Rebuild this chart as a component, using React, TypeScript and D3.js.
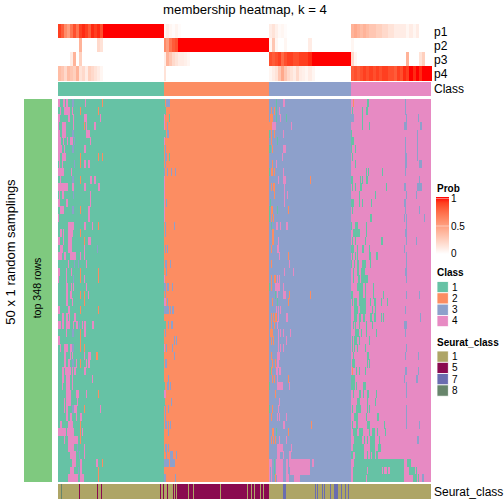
import React from "react";
import * as d3 from "d3";

const title = "membership heatmap, k = 4";
const trackNames = ["p1", "p2", "p3", "p4"];
const classColors = ["#66C2A5", "#FC8D62", "#8DA0CB", "#E78AC3"];
const classLabels = ["1", "2", "3", "4"];
const seuratLabels = ["1", "5", "7", "8"];
const seuratColors = ["#AEA566", "#8A0A50", "#6A6DB0", "#67856B"];
const probTicks = [1, 0.5, 0];

// column slots (one unit = one column slot across the heatmap body)
const columnSlots = 373;
const classBreaks = [0, 105.5, 211, 293, 373];
const rowCount = 50;

const zeros = (n: number) => new Array(n).fill(0);
const ones = (n: number) => new Array(n).fill(1);

const p1Values = [
  [.9,.8,.6,.5,.7,.85,.7,.9,.95,.9,.8,.95,.9,.95,.85,...ones(20)],
  [.05,.1,.05,.02,.06,.02,...zeros(30)],
  [.1,.15,.08,.03,.05,.02,...zeros(21)],
  [.4,.45,.4,.35,.4,.35,.3,.3,.25,.25,.2,.2,.15,.15,.1,.1,.1,.1,.05,.1,.05,.1,0,0,0,0],
];
const p2Values = [
  [0,0,0,0,0,0,0,.4,0,0,0,0,0,.2,.15,...zeros(20)],
  [.6,.5,.7,.8,.85,...ones(31)],
  [.05,.3,.05,0,0,.05,0,0,0,0,0,0,0,.1,...zeros(13)],
  [.05,...zeros(25)],
];
const p3Values = [
  [0,0,0,0,.1,.4,0,.25,0,...zeros(26)],
  [.1,.4,.3,.2,.15,.1,.1,.08,.05,...zeros(27)],
  [.85,.8,.85,.9,.75,.85,.9,.9,.85,.85,.9,.9,.9,.95,...ones(13)],
  [.2,.05,...zeros(16),.4,0,0,0,.15,.25,0,0],
];
const p4Values = [
  [.35,.3,.2,.35,.3,.25,.4,.15,.2,.1,.25,.2,.15,.1,.05,...zeros(20)],
  [.15,...zeros(35)],
  [.05,.1,.15,.3,.45,.3,.2,.15,.1,.2,.1,.08,.05,.1,.05,...zeros(12)],
  [.8,.85,.8,.85,.9,.85,.9,.85,.9,.85,.9,.9,.85,.85,.8,.9,.85,.95,.9,1,.95,1,.95,1,1,1],
];

const seurat5 = [[21,22],[39,40],[43,44],[102,103],[105,106],[109,110],[115,116],[117,118],[119,130],[131,135],[136,162],[163,189],[190,193],[194,196],[197,202],[203,205],[206,211]];
const seurat7 = [[225,228],[257,258],[259,260],[264,265],[266,267],[272,273],[276,280],[283,284],[287,288],[290,291]];
const seurat8 = [[3,4]];

const group1Rows = [
"0-1.5p 4.5-6.5p 8-9.5p 13.5-15.5b 27p 43.5o","1.5-2.5p 5.5-11.5p 13.5p 21.5o 39.5o","0-1.5p 10-12p 14.5-16p 26-29p 41.5p","0-1p 4-8p 14.5p 25.5o 27.5-29p 36-38p","0-1.5p 4-8p 13.5-16b 28-31.5p",
"0-3p 4.5-6p 8.5-10p 12-15p 15.5b 31.5-33p","0-4p 5.5-6.5p 13.5-15.5b 26-27.5p","0-2p 4-7.5p 21.5o 39.5o 43.5o","0.5-2p 3.5-4.5p 15.5b 21.5o 26-27.5p 30-31.5p","0-6p 12.5-14p",
"1.5-3p 13.5-15.5b 21.5o 32-33.5p 36-37.5p","0-5.5p 6-9.5p 14-16p 25.5-27.5p 40-41.5p","0.5-2p 3.5-6p 14.5-16b 31.5p","0-1.5p 8-10p 31.5p","2-6p 13.5-15.5b 21.5o 29.5-31.5p",
"0-1p 29.5-31.5p","10-15.5p 25.5-27.5p 33.5p 39.5o","2-3.5p 4.5-6p 10-14.5p 21.5o","0-1.5p 4.5-6p 10-13.5p 25.5o 29.5-32.5p","2-4.5p 10-14p 26p 38.5b",
"0-3.5p 6-8p 11.5-17.5p 21.5-23p 25.5p","10-11p 15.5b 19.5b 28p","0-1.5p 8p 12.5-14p 21.5o 39.5o","0p 8p 14.5b 25.5p 21.5o 39.5o","8-9.5p 12.5-14p 15p 28-29p",
"8-9.5p 12-13.5p 21.5o 25.5o 29.5p","8-9.5p 13.5p 25.5o","0-1.5p 10-11.5p 21.5o 39.5o","4-5.5p 8-9.5p 10.5p 16-17.5p","0-3p 4-5.5p 8-12p 14.5-16p 18-19.5p 20.5b 23.5p 26-27.5p 33.5-36p",
"8p 13.5-15.5b 21.5o 26-27.5p","0-1.5p 21.5o","1.5p 5.5-10p 11.5-13.5p 14-16b 21.5o 25.5o","6-8p 12p 13.5-15p 26p 30-32.5p 38-39.5o","6-8p 10-12p 13.5-15.5b 17.5p 21.5o 27.5p 30-31.5p",
"4-5.5p 6.5-12.5p 14p 16-18p 26-27.5p","4-5.5p 8-12p 13.5-15p 33.5p","4p 8-11.5p 13.5-15p","8-12.5p 17.5-20.5p 27.5p 39.5o","5.5p 8-12.5p 19p",
"5.5p 8-10p 13.5-16b 16-18.5p 25.5o 42p","8-9.5p 11.5-13.5p 18p 21.5-23.5p","2-3.5p 10-14.5p 21.5o","0-1.5p 2-7.5p 8.5-15.5p 21.5o 23.5p","5.5p 9.5-19.5p 21.5o",
"9.5-16p 18.5b 26p","11.5-17.5p 20.5b 26p","14-17.5p 21.5-24p 38-40p 43.5o","12-16p 19.5b 22-24p 39.5o","9.5-19.5p 22-25.5p 39.5o",
];
const group2Rows = [
"106-107g 108-111.5b","106-107.5g","105.5p 111g","105.5p 109b","106-107.5g 109-111b",
"105.5p","107b","107-109b 111g","107b","106b 109b 113b 117b",
"105.5p","105.5p","105.5p","105.5p 107.5-109b","105.5p",
"105.5p","107b 116-117b","107b","","107b 109b",
"","107-109b 112-113b","108-109b","105.5p","106-107.5b 109-111b 114-115b",
"105.5-106p 107b","105.5-107.5p 109b","105.5-106p 106-111b 112-113b 114-115.5b","","106-107.5g 110-111b 113-115b",
"107b","116-117b 118-119b","105.5p 108-109b 114-115b","116-117b","107-109b",
"","110-111b","106-107g 109-111b 112-113b","105.5-107.5p","106-107g 113b",
"107b 110-111b","107b","107-109b 110b 112-113b","110-111b","",
"107-109b 110-111b","108b 112-115b 118b","106-111b 112-117b","","106-107.5b 117b",
];
const group3Rows = [
"218g 225-227p","213o 216o 218g 221p","212-215o 218g 222p 228g","211-214o 214-218p 233p","211g 213o 216o 225p",
"213o 219g","211-213g 214o 225-228p","224p","214o 218p","211g 213-214.5o 216o 225p",
"220p 225-228p 252o","213-214o 215-216.5o 226p","216o 226p 229p","212g 226p","211-212g 213-215o 219g 230o",
"211g 213o 215o","213g 218-220p 222p 228-230p","214-216o","214-216o 220p","213o 219-221p",
"221p 230o","213o 231p","226p 235p","213o 216-218o 219p 221p","211g 213o 217-222p 225p",
"217g 219-220p 225-228p 231o 252o","214o 219g 230o","218p 220p 222p","213o 215o 217-219o 220p 228-230p","213o 216o 219p",
"212-215o 220p 222p 225p 232p","213o 215o 220p 228p","220p 222p 225p","213o 219-222p","214o 217o 219-221p",
"212g 213o 218-220p 221-223p","214o 216o 219p 230o","211g 219-225p 231p","217o","221p",
"211g 214o 220p","213o 219p 221p 228p","225-227p 253o","214-216o 218g 230o","213o 215o 217o 221p 228p",
"219-225p 233p","219-222p 225p 231-233p","211-214p 216g 218-225p 228-230p 231-252p 254-256p","211p 213-214p 216g 218-225p 228-230p 232-252p","211p 213p 217o 219-225p 228-231p 236-242p",
];
const group4Rows = [
"295-296o 309-311g 347b","294g 304g 308-310g 347b","293-296b 304g 348b 360b","304g 311g 346-349b 362-364b","293-294g 359b",
"293-296g 347b 359b","293g 297g 347b 359b","294g 347-349b 359b","297g 347-349b 361-364b","308g 310g 324g 347b",
"293-295g 302g 304g 308-310g 361b","294-295g 297g 302-304g 328g 346-348b 359-364b","301g 317g 348b 358b","293-296g 301g 304g 313g 346-348b","294g 347b 361b",
"312-314g 346b 348b 366b","293g 297-300g 308g 348b","295-302g 308g 347-349b","294g 297g 307g 323-325g 348b 358b","293-296g 299g 304-306g 311g 346b",
"294-295g 297g 299g 311-313g 318-320g 348b","293g 296g 299-301g 304-308g 312g 348b","295g 299-301g 303-307g 347-349b","295g 300-302g 303-310g 348b","299-305g 307g 315g",
"293-295g 301-305g 307g 315g 325g 348b 361b","294g 296-299g 301-308g 312g 316-318g 323g 329g","296-300g 302-308g 314g 317g 347b","296-299g 301-303g 305-307g 312-314g 316-318g 323g 325g 362b","295g 297g 301-302g 308g 314g 346-349b",
"297-301g 303g 308g 318g 347b","294g 296-299g 301g 311g","294g 296g 299g 307g 348b","295g 309-311g 347b 360b","294-297g 309g 311g",
"294o 298g 301g 307g 347-349b 360b","293-297g 346b 358-360b","293-297g 298g 305-308g 348b","295g 301-303g 305g 309-311g 318g 348b","299-302g 309g 317g",
"294g 298-303g 309g 311g 348b","296-300g 308g 319-321g 348b","294g 298-300g 309-312g 326g 348b 361b","295-299g 301-305g 311g 314-317g 319g 327g","296-304g 306g 309g 312-317g 321g 359-361b",
"295-306g 312-317g 320-323g","293-295g 297-306g 309g 312g 314-317g 318-320g","296-346g 349-353g","295-309g 310-324g 325g 329g 332-346g 351-357g 358g","295-308g 309-346g 355-359g 360g 364-366b",
];

const letterClass: Record<string, number> = { g: 0, o: 1, b: 2, p: 3 };
function parseRow(s: string) {
  return s.split(" ").filter(Boolean).map((t) => {
    const m = t.match(/^([\d.]+)(?:-([\d.]+))?([gopb])$/)!;
    const a = +m[1];
    return { a, b: m[2] ? +m[2] : a + 1.1, cls: letterClass[m[3]] };
  });
}

const FONT = "'Liberation Sans', Arial, sans-serif";

export default function App() {
  const x = d3.scaleLinear().domain([0, columnSlots]).range([58, 431]);
  const y = d3.scaleBand<number>().domain(d3.range(rowCount)).range([99, 482]);
  const prob = (v: number) => d3.interpolateLab("#ffffff", "#ff0000")(v);
  const tracks = [p1Values, p2Values, p3Values, p4Values];
  const trackY = d3.scaleBand<number>().domain([0, 1, 2, 3]).range([24, 80.5]);
  const groups = [group1Rows, group2Rows, group3Rows, group4Rows];
  const probY = d3.scaleLinear().domain([0, 1]).range([253, 198]);
  const gradientStops = d3.range(0, 1.01, 0.1);
  const boxH = 11.3;

  return (
    <svg width={504} height={504} style={{ position: "absolute", left: 0, top: 0 }} fontFamily={FONT}>
      <defs>
        <linearGradient id="prob" x1="0" y1="1" x2="0" y2="0">
          {gradientStops.map((s) => (
            <stop key={s} offset={s} stopColor={prob(s)} />
          ))}
        </linearGradient>
      </defs>
      <rect width={504} height={504} fill="white" />
      <text x={245} y={14} fontSize={13.2} textAnchor="middle">{title}</text>

      {/* membership tracks */}
      <g shapeRendering="crispEdges">
        {tracks.map((blocks, t) =>
          blocks.map((vals, b) => {
            const bx = d3.scaleBand<number>().domain(d3.range(vals.length)).range([x(classBreaks[b]), x(classBreaks[b + 1])]);
            return vals.map((v, i) => (
              <rect key={`${t}-${b}-${i}`} x={bx(i)} y={trackY(t)} width={bx.bandwidth() + 0.5} height={trackY.bandwidth()} fill={prob(v)} />
            ));
          })
        )}
        {classColors.map((c, i) => (
          <rect key={c} x={x(classBreaks[i])} y={82} width={x(classBreaks[i + 1]) - x(classBreaks[i])} height={14} fill={c} />
        ))}
        {/* sampling bar */}
        <rect x={24} y={99} width={28} height={383} fill="#7FC97F" />
        {/* body */}
        {classColors.map((c, i) => (
          <rect key={"b" + c} x={x(classBreaks[i])} y={99} width={x(classBreaks[i + 1]) - x(classBreaks[i])} height={383} fill={c} />
        ))}
        {groups.map((rows, g) =>
          rows.map((row, r) =>
            parseRow(row).map((s, k) => (
              <rect key={`${g}-${r}-${k}`} x={x(s.a)} y={y(r)} width={x(s.b) - x(s.a)} height={y.bandwidth() + 0.4} fill={classColors[s.cls]} />
            ))
          )
        )}
        {/* Seurat class */}
        <rect x={58} y={484} width={373} height={15} fill={seuratColors[0]} />
        {[seurat5, seurat7, seurat8].map((segs, k) =>
          segs.map(([a, b]) => (
            <rect key={`${k}-${a}`} x={x(a)} y={484} width={x(b) - x(a)} height={15} fill={seuratColors[k + 1]} />
          ))
        )}
      </g>

      {trackNames.map((n, i) => (
        <text key={n} x={434} y={(trackY(i) as number) + 12} fontSize={12}>{n}</text>
      ))}
      <text x={434} y={93} fontSize={12}>Class</text>
      <text x={434} y={496} fontSize={12}>Seurat_class</text>
      <text transform="translate(15,252) rotate(-90)" fontSize={13} textAnchor="middle">50 x 1 random samplings</text>
      <text transform="translate(41,288) rotate(-90)" fontSize={10.6} textAnchor="middle">top 348 rows</text>

      {/* legends */}
      <text x={437} y={192} fontSize={10} fontWeight="bold">Prob</text>
      <rect x={436} y={197} width={13} height={57} fill="url(#prob)" />
      {probTicks.map((t) => (
        <g key={t}>
          {t > 0 && <line x1={436} x2={449} y1={probY(t) + 0.5} y2={probY(t) + 0.5} stroke="white" strokeOpacity={0.45} />}
          <text x={451} y={probY(t) + 4} fontSize={10}>{t}</text>
        </g>
      ))}
      <text x={437} y={276} fontSize={10} fontWeight="bold">Class</text>
      {classLabels.map((l, i) => (
        <g key={l}>
          <rect x={437} y={281.5 + i * boxH} width={11.3} height={boxH} fill={classColors[i]} stroke="white" strokeWidth={0.8} />
          <text x={452} y={290.5 + i * boxH} fontSize={10}>{l}</text>
        </g>
      ))}
      <text x={437} y={346} fontSize={10} fontWeight="bold">Seurat_class</text>
      {seuratLabels.map((l, i) => (
        <g key={l}>
          <rect x={437} y={351 + i * boxH} width={11.3} height={boxH} fill={seuratColors[i]} stroke="white" strokeWidth={0.8} />
          <text x={452} y={360 + i * boxH} fontSize={10}>{l}</text>
        </g>
      ))}
    </svg>
  );
}
